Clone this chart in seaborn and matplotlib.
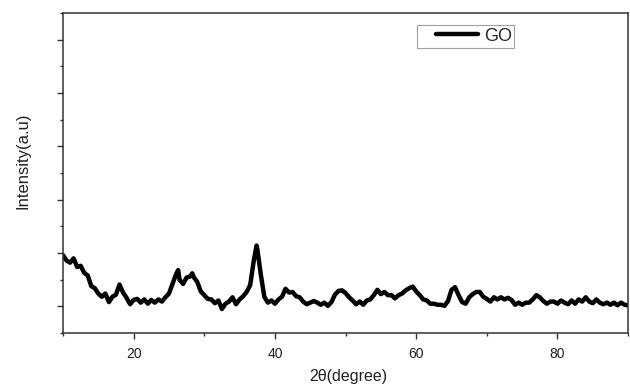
import numpy as np
import pandas as pd
import seaborn as sns
import matplotlib
matplotlib.use("Agg")
import matplotlib.pyplot as plt
from matplotlib.ticker import MultipleLocator, NullFormatter
from matplotlib.legend_handler import HandlerLine2D

# XRD pattern of graphene oxide: diffraction angle (degrees) and intensity (a.u.)
two_theta = [
    10.0, 10.5, 11.0, 11.5, 12.0, 12.5, 13.0, 13.5, 14.0, 14.5,
    15.0, 15.5, 16.0, 16.5, 17.0, 17.5, 18.0, 18.5, 19.0, 19.5,
    20.0, 20.5, 21.0, 21.5, 22.0, 22.5, 23.0, 23.5, 24.0, 24.5,
    25.0, 25.5, 26.0, 26.3, 26.5, 27.0, 27.5, 28.0, 28.3, 28.5,
    29.0, 29.5, 30.0, 30.5, 31.0, 31.5, 32.0, 32.5, 33.0, 33.5,
    34.0, 34.5, 35.0, 35.5, 36.0, 36.5, 37.0, 37.4, 37.5, 38.0,
    38.5, 39.0, 39.5, 40.0, 40.5, 41.0, 41.5, 42.0, 42.5, 43.0,
    43.5, 44.0, 44.5, 45.0, 45.5, 46.0, 46.5, 47.0, 47.5, 48.0,
    48.5, 49.0, 49.5, 50.0, 50.5, 51.0, 51.5, 52.0, 52.5, 53.0,
    53.5, 54.0, 54.5, 55.0, 55.5, 56.0, 56.5, 57.0, 57.5, 58.0,
    58.5, 59.0, 59.5, 60.0, 60.5, 61.0, 61.5, 62.0, 62.5, 63.0,
    63.5, 64.0, 64.5, 65.0, 65.5, 66.0, 66.5, 67.0, 67.5, 68.0,
    68.5, 69.0, 69.5, 70.0, 70.5, 71.0, 71.5, 72.0, 72.5, 73.0,
    73.5, 74.0, 74.5, 75.0, 75.5, 76.0, 76.5, 77.0, 77.5, 78.0,
    78.5, 79.0, 79.5, 80.0, 80.5, 81.0, 81.5, 82.0, 82.5, 83.0,
    83.5, 84.0, 84.5, 85.0, 85.5, 86.0, 86.5, 87.0, 87.5, 88.0,
    88.5, 89.0, 89.5, 90.0,
]
intensity = [
    196, 186, 182, 190, 174, 176, 163, 158, 138, 134,
    124, 118, 124, 108, 118, 122, 141, 126, 116, 104,
    112, 114, 107, 113, 105, 112, 107, 113, 109, 117,
    124, 142, 160, 168, 150, 142, 154, 156, 162, 155,
    146, 128, 121, 114, 113, 106, 111, 95, 105, 109,
    117, 104, 113, 119, 127, 140, 185, 214, 208, 160,
    118, 107, 111, 105, 113, 118, 133, 126, 127, 119,
    117, 109, 104, 107, 110, 107, 103, 107, 101, 108,
    122, 129, 130, 125, 117, 111, 104, 109, 103, 111,
    113, 121, 131, 123, 127, 121, 121, 115, 121, 124,
    130, 134, 137, 128, 121, 113, 111, 105, 105, 103,
    103, 101, 110, 131, 136, 121, 108, 105, 117, 123,
    127, 127, 118, 114, 109, 117, 113, 117, 113, 116,
    112, 103, 107, 103, 107, 107, 113, 121, 117, 110,
    105, 109, 109, 105, 111, 107, 104, 111, 105, 113,
    109, 117, 109, 106, 113, 107, 104, 107, 103, 107,
    102, 107, 103, 102,
]
series_name = "GO"

df = pd.DataFrame({"two_theta": two_theta, "intensity": intensity})

sns.set_style("ticks")
plt.rcParams["font.family"] = ["Liberation Sans", "DejaVu Sans"]

fig = plt.figure(figsize=(6.3, 3.85), dpi=100)
ax = fig.add_axes([0.1, 0.135, 0.897, 0.831])

sns.lineplot(data=df, x="two_theta", y="intensity", ax=ax,
             color="black", linewidth=3.2, label=series_name)

ax.set_xlim(10, 90)
ax.set_ylim(50, 650)
ax.xaxis.set_major_locator(MultipleLocator(20))
ax.xaxis.set_minor_locator(MultipleLocator(10))
ax.yaxis.set_major_locator(MultipleLocator(100))
ax.yaxis.set_minor_locator(MultipleLocator(50))
ax.yaxis.set_major_formatter(NullFormatter())

ax.tick_params(axis="both", which="major", direction="out", length=4.3,
               width=1.0, color="#333333", labelsize=10, labelcolor="#222222")
ax.tick_params(axis="both", which="minor", direction="out", length=2.5,
               width=1.0, color="#333333")
ax.tick_params(axis="x", pad=6)

for side in ["left", "right", "top", "bottom"]:
    ax.spines[side].set_visible(True)
    ax.spines[side].set_linewidth(1.1)
    ax.spines[side].set_color("#333333")

ax.set_xlabel("2θ(degree)", fontsize=11.5, color="#222222")
ax.set_ylabel("Intensity(a.u)", fontsize=12, color="#222222")
ax.yaxis.set_label_coords(-0.058, 0.54)
ax.xaxis.set_label_coords(0.505, -0.1125)
ax.xaxis.label.set_va("top")

# the legend line is inset from the left edge of the frame
leg = ax.legend(loc="upper left", bbox_to_anchor=(0.627, 0.9625), fontsize=13,
                frameon=True, fancybox=False, handlelength=3.2,
                handletextpad=0.33, borderpad=0.15, borderaxespad=0,
                handler_map={plt.Line2D: HandlerLine2D(xpad=0.9)})
leg.get_frame().set_edgecolor("#888888")
leg.get_frame().set_linewidth(0.8)

fig.savefig("out.png", dpi=100, facecolor="white")
